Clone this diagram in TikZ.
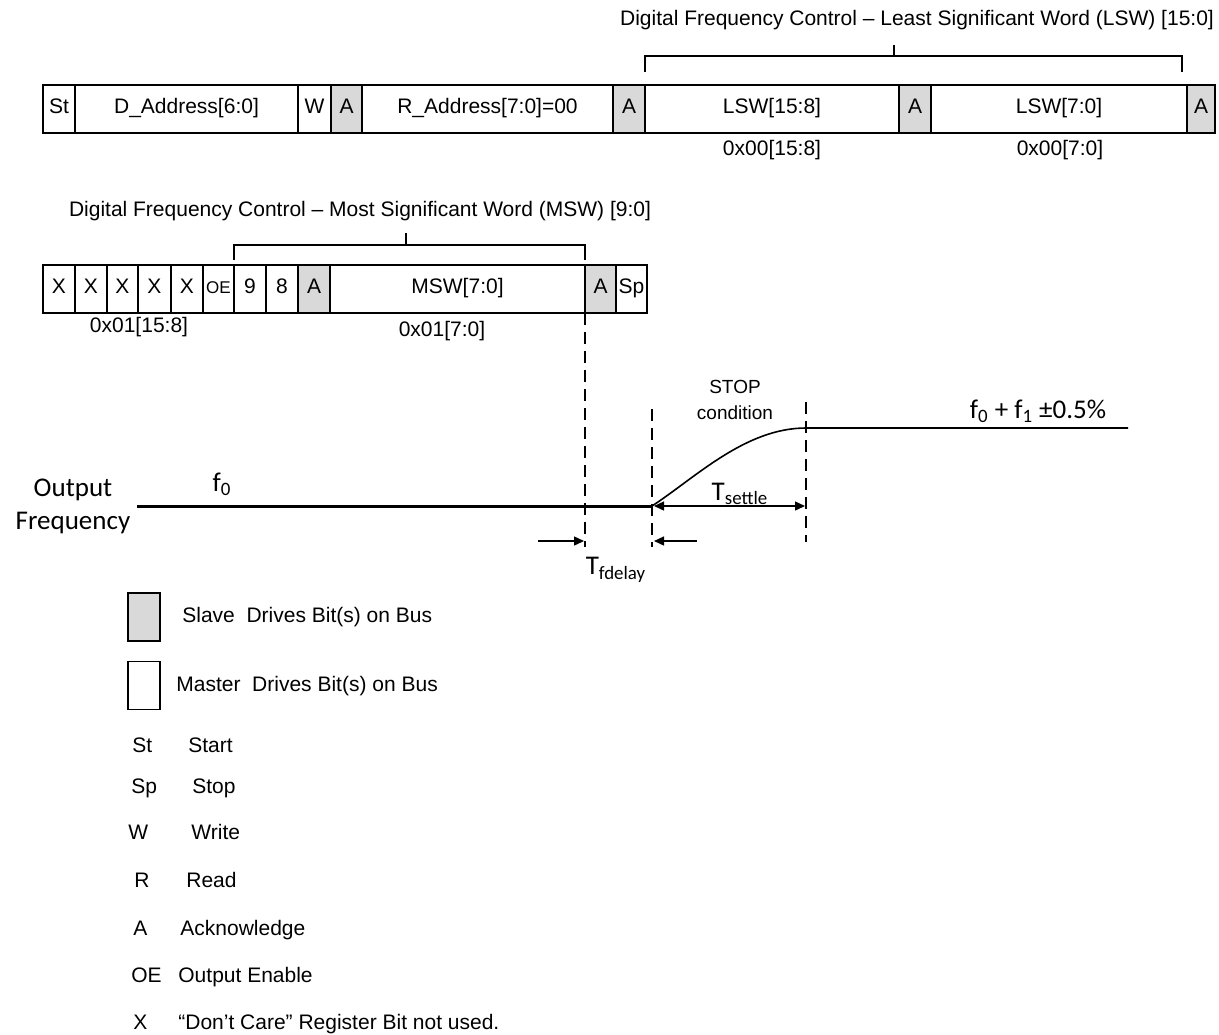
\documentclass[tikz,border=0pt]{standalone}
\usepackage{fontspec}
\setmainfont{Liberation Sans}
\newfontfamily\calibri{Carlito}
\usetikzlibrary{arrows.meta, positioning, calc}
\definecolor{slavegray}{RGB}{217,217,217}

\begin{document}
\begin{tikzpicture}[
  x=0.5pt, y=-0.5pt,
  every node/.style={font=\fontsize{10.5}{12.6}\selectfont, inner sep=0pt},
  cell/.style={draw, line width=0.7pt, minimum height=24pt, outer sep=0pt,
               text height=7pt, text depth=3pt},
  slave/.style={cell, fill=slavegray},
  calib/.style={font=\calibri\fontsize{13.5}{16.5}\selectfont},
  arrow/.style={-{Triangle[length=5pt, width=4.5pt]}, line width=0.7pt},
  guide/.style={line width=0.7pt, dash pattern=on 6pt off 3.5pt},
  bracket/.style={line width=0.6pt},
  keytext/.style={anchor=base west}
]
  \useasboundingbox (0,0) rectangle (1219,1034);

  % LSW write sequence
  \node[cell,  minimum width=16pt]   (st)    at (59,109)    {St};
  \node[cell,  minimum width=111.5pt] (daddr) at (186.5,109) {D\_Address[6:0]};
  \node[cell,  minimum width=16.5pt] (wbit)  at (314.5,109) {W};
  \node[slave, minimum width=15.5pt] (ack1)  at (346.5,109) {A};
  \node[cell,  minimum width=125.5pt] (raddr) at (487.5,109) {R\_Address[7:0]=00};
  \node[slave, minimum width=16pt]   (ack2)  at (629,109)   {A};
  \node[cell,  minimum width=127pt]  (lswhi) at (772,109)   {LSW[15:8]};
  \node[slave, minimum width=16pt]   (ack3)  at (915,109)   {A};
  \node[cell,  minimum width=128pt]  (lswlo) at (1059,109)  {LSW[7:0]};
  \node[slave, minimum width=14pt]   (ack4)  at (1201,109)  {A};

  \node (lswhireg) at (772,150)  {0x00[15:8]};
  \node (lswloreg) at (1060,150) {0x00[7:0]};

  \draw[bracket] (645,72) -- (645,56) -- (1182,56) -- (1182,72);
  \draw[bracket] (894,45) -- (894,56);
  \node (lswtitle) at (917,20) {Digital Frequency Control – Least Significant Word (LSW) [15:0]};

  % MSW write sequence
  \node[cell,  minimum width=16pt]   (xa)   at (59,289)    {X};
  \node[cell,  minimum width=16pt]   (xb)   at (91,289)    {X};
  \node[cell,  minimum width=15.5pt] (xc)   at (122.5,289) {X};
  \node[cell,  minimum width=16.5pt] (xd)   at (154.5,289) {X};
  \node[cell,  minimum width=16pt]   (xe)   at (187,289)   {X};
  \node[cell,  minimum width=15.5pt, font=\fontsize{8.5}{10}\selectfont] (oe) at (218.5,289) {OE};
  \node[cell,  minimum width=16pt]   (bnine)  at (250,289) {9};
  \node[cell,  minimum width=16pt]   (beight) at (282,289) {8};
  \node[slave, minimum width=16pt]   (ack5) at (314,289)   {A};
  \node[cell,  minimum width=127.5pt] (msw) at (457.5,289) {MSW[7:0]};
  \node[slave, minimum width=15.5pt] (ack6) at (600.5,289) {A};
  \node[cell,  minimum width=15.5pt] (sp)   at (631.5,289) {Sp};

  \node (mswhireg) at (139,327) {0x01[15:8]};
  \node (mswloreg) at (442,331) {0x01[7:0]};

  \draw[bracket] (234,260) -- (234,245) -- (585,245) -- (585,260);
  \draw[bracket] (406,233) -- (406,245);
  \node (mswtitle) at (360,211) {Digital Frequency Control – Most Significant Word (MSW) [9:0]};

  % output frequency
  \coordinate (fstart) at (137,506);
  \coordinate (rise)   at (652,506);
  \coordinate (settle) at (806,428);
  \coordinate (fend)   at (1128,428);

  \node[calib, align=center] (outfreq) at (73,506) {Output\\Frequency};
  \node[calib] (fzero) at (222,484) {f\textsubscript{0}};
  \node[calib] (fnew)  at (1038,411) {f\textsubscript{0} + f\textsubscript{1} ±0.5\%};
  \node[font=\fontsize{9.5}{13}\selectfont, align=center] (stopcond) at (735,400) {STOP\\condition};

  \draw[line width=1.5pt] (fstart) -- (rise);
  \draw[line width=0.8pt] (rise) .. controls (695,478) and (745,428) .. (settle) -- (fend);

  \draw[guide] (ack6.south west) -- (585,547);
  \draw[guide] (652,409) -- (652,547);
  \draw[guide] (806,402) -- (806,542);

  \draw[arrow, {Triangle[length=5pt, width=4.5pt]}-{Triangle[length=5pt, width=4.5pt]}] (654,506) -- (805,506);
  \node[calib] (tsettle) at (740,494) {T\textsubscript{settle}};

  \coordinate (delayin)  at (538,541);
  \coordinate (delayout) at (697,541);
  \draw[arrow] (delayin) -- (584,541);
  \draw[arrow] (delayout) -- (654,541);
  \node[calib] (tfdelay) at (616,570) {T\textsubscript{fdelay}};

  % legend
  \node[slave, minimum width=16pt] (keyslave)  at (144,617) {};
  \node[cell,  minimum width=16pt] (keymaster) at (144,685.5) {};
  \node[anchor=west] (slavetxt)  at (182,617) {Slave~~Drives Bit(s) on Bus};
  \node[anchor=west] (mastertxt) at (176,686) {Master~~Drives Bit(s) on Bus};

  \node[keytext] (kst)  at (132,752) {St};
  \node[keytext]        at (188,752) {Start};
  \node[keytext] (ksp)  at (131,793) {Sp};
  \node[keytext]        at (192,793) {Stop};
  \node[keytext] (kw)   at (128,839) {W};
  \node[keytext]        at (191,839) {Write};
  \node[keytext] (kr)   at (134,887) {R};
  \node[keytext]        at (186,887) {Read};
  \node[keytext] (ka)   at (133,935) {A};
  \node[keytext]        at (180,935) {Acknowledge};
  \node[keytext] (koe)  at (131,982) {OE};
  \node[keytext]        at (178,982) {Output Enable};
  \node[keytext] (kx)   at (133,1029) {X};
  \node[keytext]        at (178,1029) {“Don’t Care” Register Bit not used.};
\end{tikzpicture}
\end{document}
